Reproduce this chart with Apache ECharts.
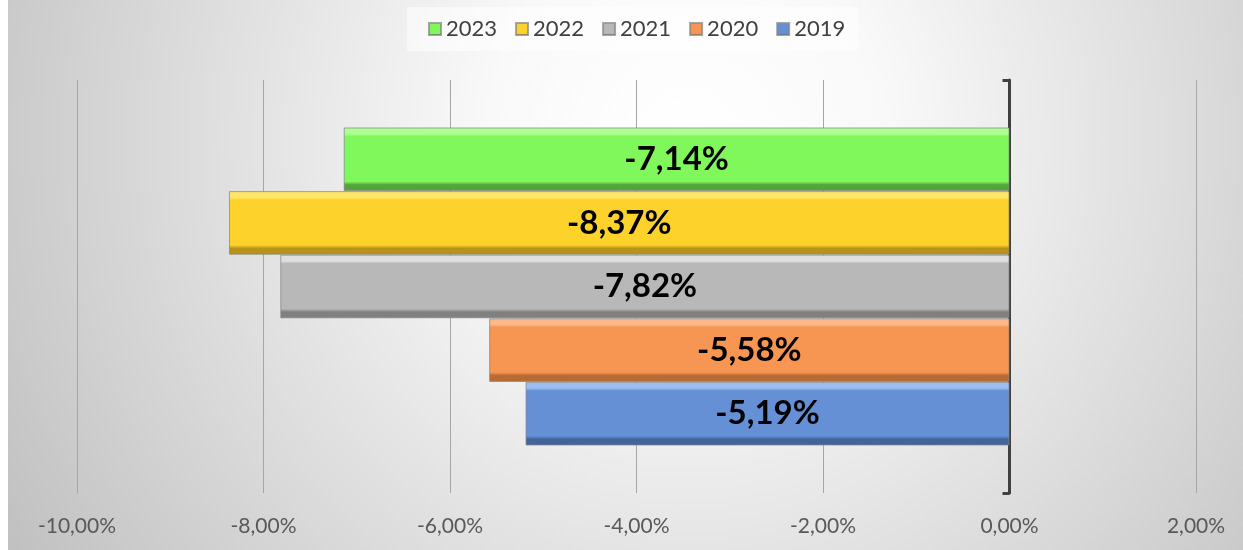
<!DOCTYPE html>
<html>
<head>
<meta charset="utf-8">
<script src="https://cdn.jsdelivr.net/npm/echarts@6/dist/echarts.min.js"></script>
<style>
html,body{margin:0;padding:0;background:#fff;}
#c{width:1243px;height:550px;}
</style>
</head>
<body>
<div id="c"></div>
<script>
// Data
const categories = ['Saldo'];
const seriesNames = ['2023', '2022', '2021', '2020', '2019'];
const values2023 = [-7.14];
const values2022 = [-8.37];
const values2021 = [-7.82];
const values2020 = [-5.58];
const values2019 = [-5.19];
const legendOrder = ['2023', '2022', '2021', '2020', '2019'];
const axisMin = -10, axisMax = 2, axisStep = 2;

const seriesValues = [values2023, values2022, values2021, values2020, values2019];
// [light top, main, dark bottom]
const palette = [
  ['#b0ff94', '#80f75b', '#53a43d'],
  ['#ffe66a', '#fdd22b', '#b8931a'],
  ['#e0e0e0', '#b8b8b8', '#808080'],
  ['#fbb888', '#f79552', '#b86a35'],
  ['#9dbcf0', '#6690d6', '#42649e']
];

function bevel(p) {
  return {
    type: 'linear', x: 0, y: 0, x2: 0, y2: 1,
    colorStops: [
      {offset: 0, color: p[0]},
      {offset: 0.1, color: p[0]},
      {offset: 0.14, color: p[1]},
      {offset: 0.85, color: p[1]},
      {offset: 0.9, color: p[2]},
      {offset: 1, color: p[2]}
    ]
  };
}
function fmt(v) { return v.toFixed(2).replace('.', ',') + '%'; }

const chart = echarts.init(document.getElementById('c'));
chart.setOption({
  backgroundColor: '#ffffff',
  animation: false,
  graphic: [{
    type: 'rect', z: -10, silent: true,
    shape: {x: 8, y: 0, width: 1235, height: 550},
    style: {
      fill: {
        type: 'radial', x: 0.55, y: 0.25, r: 1.45,
        colorStops: [
          {offset: 0, color: '#ffffff'},
          {offset: 0.25, color: '#f9f9f9'},
          {offset: 1, color: '#c0c0c0'}
        ]
      }
    }
  }],
  legend: {
    data: legendOrder,
    left: 407, top: 7,
    padding: [11, 13, 11, 21],
    backgroundColor: 'rgba(255,255,255,0.55)',
    itemWidth: 12, itemHeight: 12, itemGap: 18,
    icon: 'rect',
    textStyle: {fontFamily: 'Lato', fontSize: 22, color: '#404040'}
  },
  grid: {left: 77, right: 47, top: 80, bottom: 57},
  xAxis: {
    type: 'value', min: axisMin, max: axisMax, interval: axisStep,
    axisLine: {show: false}, axisTick: {show: false},
    splitLine: {show: true, lineStyle: {color: '#a6a6a6', width: 1}},
    axisLabel: {
      formatter: fmt, margin: 23,
      fontFamily: 'Lato', fontSize: 21, color: '#595959'
    }
  },
  yAxis: {
    type: 'category', data: categories,
    axisLine: {show: true, onZero: true, lineStyle: {color: '#404040', width: 3}},
    axisTick: {show: true, length: 7, lineStyle: {color: '#404040', width: 3}},
    axisLabel: {show: false}
  },
  series: seriesNames.map((name, i) => ({
    name: name, type: 'bar', data: seriesValues[i],
    barGap: '0%', barCategoryGap: '23%',
    itemStyle: {color: bevel(palette[i]), borderColor: 'rgba(130,130,130,0.7)', borderWidth: 1},
    label: {
      show: true, position: 'inside',
      formatter: p => fmt(p.value),
      fontFamily: 'Lato', fontWeight: 'bold', fontSize: 33, color: '#000'
    }
  }))
});
</script>
</body>
</html>
